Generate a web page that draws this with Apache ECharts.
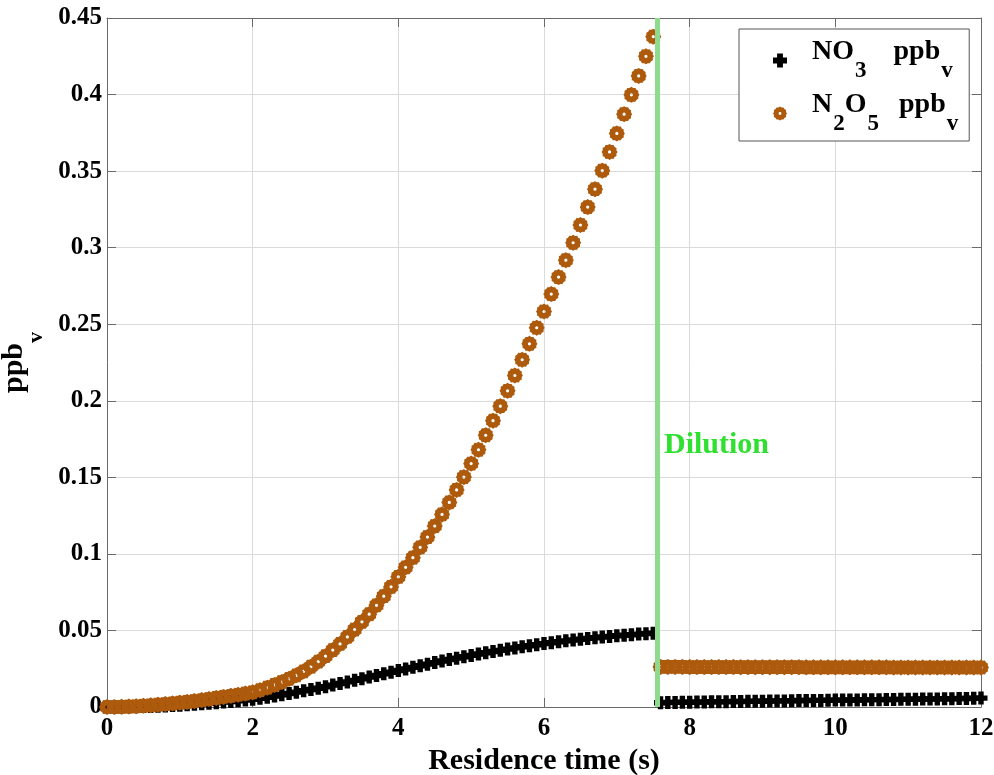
<!DOCTYPE html>
<html>
<head>
<meta charset="utf-8">
<script src="https://cdn.jsdelivr.net/npm/echarts@6/dist/echarts.min.js"></script>
<style>
html,body{margin:0;padding:0;background:#fff;}
#chart{width:994px;height:775px;}
</style>
</head>
<body>
<div id="chart"></div>
<script>
// ---- data ----
const timePre = [0,0.1,0.2,0.3,0.4,0.5,0.6,0.7,0.8,0.9,
  1.0,1.1,1.2,1.3,1.4,1.5,1.6,1.7,1.8,1.9,
  2.0,2.1,2.2,2.3,2.4,2.5,2.6,2.7,2.8,2.9,
  3.0,3.1,3.2,3.3,3.4,3.5,3.6,3.7,3.8,3.9,
  4.0,4.1,4.2,4.3,4.4,4.5,4.6,4.7,4.8,4.9,
  5.0,5.1,5.2,5.3,5.4,5.5,5.6,5.7,5.8,5.9,
  6.0,6.1,6.2,6.3,6.4,6.5,6.6,6.7,6.8,6.9,
  7.0,7.1,7.2,7.3,7.4,7.5];
const no3Pre = [0.0000,0.0000,0.0000,0.0001,0.0002,0.0003,0.0004,0.0005,0.0007,0.0009,
  0.0012,0.0015,0.0018,0.0021,0.0024,0.0028,0.0032,0.0036,0.0041,0.0045,
  0.0050,0.0057,0.0064,0.0072,0.0080,0.0088,0.0097,0.0106,0.0114,0.0123,
  0.0132,0.0143,0.0153,0.0164,0.0174,0.0185,0.0196,0.0206,0.0217,0.0227,
  0.0238,0.0248,0.0259,0.0269,0.0280,0.0290,0.0300,0.0310,0.0319,0.0328,
  0.0337,0.0346,0.0354,0.0362,0.0370,0.0378,0.0386,0.0393,0.0400,0.0407,
  0.0414,0.0420,0.0426,0.0432,0.0438,0.0443,0.0448,0.0452,0.0457,0.0461,
  0.0465,0.0469,0.0472,0.0476,0.0479,0.0482];
const n2o5Pre = [0.0000,0.0000,0.0001,0.0003,0.0005,0.0008,0.0011,0.0015,0.0019,0.0023,
  0.0028,0.0033,0.0039,0.0045,0.0052,0.0059,0.0066,0.0073,0.0080,0.0088,
  0.0096,0.0110,0.0126,0.0144,0.0163,0.0184,0.0207,0.0233,0.0263,0.0296,
  0.0332,0.0372,0.0412,0.0458,0.0506,0.0556,0.0606,0.0664,0.0724,0.0785,
  0.0850,0.0912,0.0975,0.1043,0.1110,0.1182,0.1258,0.1336,0.1418,0.1502,
  0.1590,0.1680,0.1775,0.1870,0.1965,0.2065,0.2165,0.2268,0.2372,0.2477,
  0.2583,0.2697,0.2808,0.2918,0.3032,0.3148,0.3265,0.3382,0.3503,0.3625,
  0.3746,0.3872,0.3998,0.4122,0.4250,0.4378];
const timePost = [7.6,7.7,7.8,7.9,8.0,8.1,8.2,8.3,8.4,8.5,
  8.6,8.7,8.8,8.9,9.0,9.1,9.2,9.3,9.4,9.5,
  9.6,9.7,9.8,9.9,10.0,10.1,10.2,10.3,10.4,10.5,
  10.6,10.7,10.8,10.9,11.0,11.1,11.2,11.3,11.4,11.5,
  11.6,11.7,11.8,11.9,12.0];
const no3Post = [0.0028,0.0029,0.0030,0.0031,0.0031,0.0032,0.0033,0.0034,0.0034,0.0035,
  0.0036,0.0036,0.0037,0.0038,0.0038,0.0039,0.0040,0.0040,0.0041,0.0042,
  0.0042,0.0043,0.0043,0.0044,0.0045,0.0045,0.0046,0.0046,0.0047,0.0048,
  0.0048,0.0049,0.0049,0.0050,0.0051,0.0051,0.0052,0.0052,0.0053,0.0054,
  0.0054,0.0055,0.0056,0.0057,0.0058];
const n2o5Post = [0.0262,0.0262,0.0262,0.0262,0.0261,0.0261,0.0261,0.0261,0.0261,0.0261,
  0.0261,0.0260,0.0260,0.0260,0.0260,0.0260,0.0260,0.0260,0.0260,0.0260,
  0.0259,0.0259,0.0259,0.0259,0.0259,0.0259,0.0259,0.0259,0.0259,0.0259,
  0.0259,0.0259,0.0258,0.0258,0.0258,0.0258,0.0258,0.0258,0.0258,0.0258,
  0.0258,0.0258,0.0258,0.0258,0.0258];
const dilutionTime = 7.56;
const xTicks = {min: 0, max: 12, interval: 2};
const yTicks = {min: 0, max: 0.45, interval: 0.05};
const seriesNames = ['NO3', 'N2O5'];

// ---- styling ----
const FONT = '"Liberation Serif", "Times New Roman", serif';
const ORANGE = '#AD5A0C';
const FRAME = '#6a6a6a';
const crossPath = 'path://M-1.25,-3H1.25V-1.25H3V1.25H1.25V3H-1.25V1.25H-3V-1.25H-1.25Z';
// gear-like ring marker (12 bumps) with a small hole in the centre
function gearPath(){
  const n = 24, pts = [];
  for (let k = 0; k < n; k++) {
    const a = -Math.PI/2 + k * 2*Math.PI/n;
    const r = (k % 2 === 0) ? 8 : 7.1;
    pts.push((r*Math.cos(a)).toFixed(3) + ',' + (r*Math.sin(a)).toFixed(3));
  }
  return 'path://M' + pts.join('L') + 'Z M0,-1.6A1.6,1.6,0,1,0,0,1.6A1.6,1.6,0,1,0,0,-1.6Z';
}
const ringPath = gearPath();

function zip(xs, ys){ return xs.map((x,i)=>[x, ys[i]]); }

const chart = echarts.init(document.getElementById('chart'), null, {renderer:'canvas'});

const mirror = (pos, t) => ({
  type:'value', position: pos, min: t.min, max: t.max, interval: t.interval,
  axisLine:{show:true, onZero:false, lineStyle:{color:FRAME, width:1}},
  axisTick:{show:true, inside:true, length:9, lineStyle:{color:FRAME}},
  axisLabel:{show:false}, splitLine:{show:false}
});

const base = {fontFamily: FONT, fontWeight:'bold', color:'#000', verticalAlign:'top'};
const legendRich = {
  f:  Object.assign({}, base, {fontSize:28, padding:[0,0,0,20]}),
  m:  Object.assign({}, base, {fontSize:28}),
  p1: Object.assign({}, base, {fontSize:28, padding:[0,0,0,27]}),
  p2: Object.assign({}, base, {fontSize:28, padding:[0,0,0,20]}),
  s:  Object.assign({}, base, {fontSize:23, padding:[22,0,0,1]})
};
const legendText = {
  'NO3': '{f|NO}{s|3}{p1|ppb}{s|v}',
  'N2O5': '{f|N}{s|2}{m|O}{s|5}{p2|ppb}{s|v}'
};

const option = {
  animation:false,
  backgroundColor:'#fff',
  grid:{left:107, right:13, top:18, bottom:68, containLabel:false, outerBoundsMode:'none'},
  xAxis:[{
    type:'value', position:'bottom', min:xTicks.min, max:xTicks.max, interval:xTicks.interval,
    name:'Residence time (s)', nameLocation:'middle', nameGap:37,
    nameTextStyle:{fontFamily:FONT, fontWeight:'bold', fontSize:30, color:'#000'},
    axisLine:{show:true, onZero:false, lineStyle:{color:FRAME, width:1}},
    axisTick:{show:true, inside:true, length:9, lineStyle:{color:FRAME}},
    axisLabel:{fontFamily:FONT, fontWeight:'bold', fontSize:25, color:'#000', margin:9},
    splitLine:{show:true, lineStyle:{color:'#dadada', width:1}}
  }, mirror('top', xTicks)],
  yAxis:[{
    type:'value', position:'left', min:yTicks.min, max:yTicks.max, interval:yTicks.interval,
    name:'{a|ppb}{s|v}', nameLocation:'middle', nameGap:54, nameRotate:90,
    nameTextStyle:{
      rich:{
        a:{fontFamily:FONT, fontWeight:'bold', fontSize:30, color:'#000', verticalAlign:'top'},
        s:{fontFamily:FONT, fontWeight:'bold', fontSize:22, color:'#000', verticalAlign:'top', padding:[26,0,0,0]}
      }
    },
    axisLine:{show:true, onZero:false, lineStyle:{color:FRAME, width:1}},
    axisTick:{show:true, inside:true, length:9, lineStyle:{color:FRAME}},
    axisLabel:{fontFamily:FONT, fontWeight:'bold', fontSize:25, color:'#000', margin:5,
      formatter: v => String(parseFloat(v.toFixed(2)))},
    splitLine:{show:true, lineStyle:{color:'#dadada', width:1}}
  }, mirror('right', yTicks)],
  legend:{
    data: seriesNames, orient:'vertical', left:739, top:29,
    backgroundColor:'#fff', borderColor:'#555', borderWidth:1, borderRadius:0,
    padding:[9,11,5,34], itemGap:8, itemWidth:14, itemHeight:14,
    formatter: name => legendText[name],
    textStyle:{rich: legendRich},
    selectedMode:false
  },
  series:[
    {type:'scatter', name:'dilution', data:[], z:1, silent:true,
     markLine:{silent:true, symbol:['none','none'], animation:false,
       label:{show:false},
       lineStyle:{color:'#8EDB8E', width:5, type:'solid', opacity:1},
       data:[{xAxis: dilutionTime}]}},
    {type:'scatter', name:'NO3', data: zip(timePre, no3Pre), symbol: crossPath, symbolSize:13,
     itemStyle:{color:'#000', opacity:1}, z:2, silent:true},
    {type:'scatter', name:'NO3', data: zip(timePost, no3Post), symbol: crossPath, symbolSize:13,
     itemStyle:{color:'#000', opacity:1}, z:2, silent:true},
    {type:'scatter', name:'N2O5', data: zip(timePre, n2o5Pre), symbol: ringPath, symbolSize:16,
     itemStyle:{color:ORANGE, opacity:1}, z:3, silent:true},
    {type:'scatter', name:'N2O5', data: zip(timePost, n2o5Post), symbol: ringPath, symbolSize:16,
     itemStyle:{color:ORANGE, opacity:1}, z:3, silent:true}
  ],
  graphic:[
    {type:'text', x:664, y:445, z:10, silent:true,
     style:{text:'Dilution', fill:'#30E030', font:'bold 30px ' + FONT, textAlign:'left', textVerticalAlign:'middle'}}
  ]
};
chart.setOption(option);
</script>
</body>
</html>
